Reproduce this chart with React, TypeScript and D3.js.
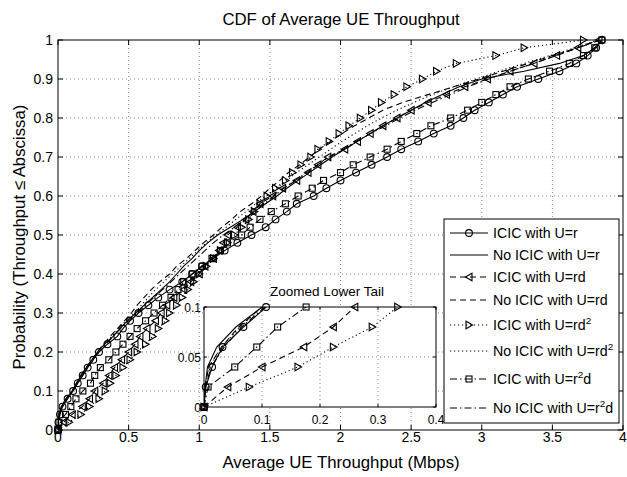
import React from "react";
import * as d3 from "d3";

// Probability levels of the empirical CDFs (shared by every series)
const probLevels = [
  0, 0.02, 0.04, 0.06, 0.08, 0.1, 0.12, 0.14, 0.16, 0.18, 0.2, 0.22, 0.24, 0.26, 0.28, 0.3,
  0.32, 0.34, 0.36, 0.38, 0.4, 0.42, 0.44, 0.46, 0.48, 0.5, 0.52, 0.54, 0.56, 0.58, 0.6,
  0.62, 0.64, 0.66, 0.68, 0.7, 0.72, 0.74, 0.76, 0.78, 0.8, 0.82, 0.84, 0.86, 0.88, 0.9,
  0.92, 0.94, 0.96, 0.98, 1.0,
];

// Throughput (Mbps) at each probability level
const icicR = [0, 0.003, 0.014, 0.032, 0.068, 0.107, 0.14, 0.175, 0.21, 0.25, 0.29, 0.35, 0.42, 0.46, 0.51, 0.57, 0.64, 0.71, 0.79, 0.88, 0.95, 1.02, 1.1, 1.18, 1.27, 1.37, 1.47, 1.54, 1.62, 1.69, 1.81, 1.9, 2.0, 2.11, 2.22, 2.33, 2.43, 2.55, 2.66, 2.78, 2.87, 2.95, 3.05, 3.15, 3.25, 3.4, 3.55, 3.67, 3.75, 3.81, 3.85];
const noIcicR = [0, 0.002, 0.006, 0.022, 0.055, 0.1, 0.13, 0.165, 0.2, 0.24, 0.28, 0.33, 0.39, 0.44, 0.49, 0.55, 0.61, 0.67, 0.73, 0.79, 0.84, 0.89, 0.95, 1.0, 1.06, 1.13, 1.22, 1.31, 1.39, 1.47, 1.55, 1.62, 1.7, 1.78, 1.86, 1.94, 2.03, 2.12, 2.21, 2.3, 2.4, 2.5, 2.6, 2.72, 2.84, 3.0, 3.3, 3.55, 3.72, 3.8, 3.85];
const icicRd = [0, 0.041, 0.1, 0.172, 0.223, 0.26, 0.32, 0.36, 0.4, 0.45, 0.5, 0.545, 0.58, 0.63, 0.69, 0.73, 0.77, 0.82, 0.89, 0.94, 1.0, 1.04, 1.1, 1.14, 1.17, 1.2, 1.27, 1.33, 1.38, 1.43, 1.52, 1.59, 1.69, 1.77, 1.84, 1.91, 2.03, 2.12, 2.21, 2.3, 2.4, 2.5, 2.62, 2.75, 2.88, 3.04, 3.2, 3.37, 3.53, 3.68, 3.83];
const noIcicRd = [0, 0.002, 0.008, 0.03, 0.06, 0.1, 0.13, 0.16, 0.2, 0.24, 0.28, 0.32, 0.37, 0.42, 0.47, 0.52, 0.56, 0.61, 0.66, 0.72, 0.79, 0.84, 0.91, 0.97, 1.03, 1.1, 1.16, 1.23, 1.29, 1.37, 1.44, 1.5, 1.57, 1.63, 1.71, 1.78, 1.85, 1.93, 2.01, 2.1, 2.2, 2.3, 2.44, 2.62, 2.8, 2.98, 3.15, 3.33, 3.5, 3.68, 3.83];
const icicRd2 = [0, 0.078, 0.162, 0.223, 0.29, 0.334, 0.37, 0.41, 0.46, 0.51, 0.56, 0.62, 0.67, 0.71, 0.76, 0.79, 0.84, 0.88, 0.92, 0.96, 1.0, 1.05, 1.1, 1.15, 1.2, 1.25, 1.3, 1.35, 1.39, 1.43, 1.48, 1.54, 1.61, 1.66, 1.72, 1.79, 1.84, 1.92, 1.99, 2.06, 2.14, 2.22, 2.29, 2.38, 2.47, 2.58, 2.68, 2.82, 3.1, 3.3, 3.72];
const noIcicRd2 = [0, 0.002, 0.01, 0.03, 0.062, 0.1, 0.135, 0.17, 0.205, 0.245, 0.285, 0.33, 0.38, 0.43, 0.48, 0.54, 0.59, 0.64, 0.69, 0.75, 0.81, 0.87, 0.93, 0.99, 1.05, 1.12, 1.19, 1.26, 1.33, 1.4, 1.47, 1.55, 1.62, 1.69, 1.77, 1.85, 1.93, 2.01, 2.1, 2.19, 2.29, 2.4, 2.52, 2.65, 2.8, 2.96, 3.12, 3.3, 3.48, 3.66, 3.82];
const icicR2d = [0, 0.007, 0.053, 0.091, 0.127, 0.176, 0.23, 0.26, 0.3, 0.36, 0.41, 0.46, 0.51, 0.56, 0.62, 0.68, 0.74, 0.8, 0.85, 0.89, 0.95, 1.02, 1.09, 1.15, 1.2, 1.3, 1.36, 1.43, 1.51, 1.61, 1.7, 1.8, 1.88, 2.0, 2.09, 2.21, 2.33, 2.43, 2.54, 2.64, 2.78, 2.9, 3.0, 3.1, 3.2, 3.33, 3.48, 3.62, 3.72, 3.8, 3.85];
const noIcicR2d = [0, 0.003, 0.012, 0.035, 0.065, 0.105, 0.14, 0.175, 0.21, 0.25, 0.29, 0.34, 0.39, 0.44, 0.5, 0.56, 0.62, 0.68, 0.74, 0.8, 0.86, 0.92, 0.98, 1.04, 1.1, 1.17, 1.25, 1.32, 1.39, 1.46, 1.53, 1.6, 1.68, 1.76, 1.84, 1.92, 2.02, 2.11, 2.21, 2.32, 2.42, 2.53, 2.65, 2.78, 2.9, 3.05, 3.2, 3.37, 3.52, 3.68, 3.84];

const seriesLabels = [
  "ICIC with U=r",
  "No ICIC with U=r",
  "ICIC with U=rd",
  "No ICIC with U=rd",
  "ICIC with U=rd^2",
  "No ICIC with U=rd^2",
  "ICIC with U=r^2d",
  "No ICIC with U=r^2d",
];
const seriesValues = [icicR, noIcicR, icicRd, noIcicRd, icicRd2, noIcicRd2, icicR2d, noIcicR2d];
const seriesMarkers = ["circle", "none", "triLeft", "none", "triRight", "none", "square", "none"];
const seriesDash = ["none", "none", "6,4", "6,4", "1.2,2.8", "1.2,2.8", "7,3,1.5,3", "7,3,1.5,3"];

const xTicks = [0, 0.5, 1, 1.5, 2, 2.5, 3, 3.5, 4];
const yTicks = [0, 0.1, 0.2, 0.3, 0.4, 0.5, 0.6, 0.7, 0.8, 0.9, 1];
const insetXTicks = [0, 0.1, 0.2, 0.3, 0.4];
const insetYTicks = [0, 0.05, 0.1];

const FONT = "'Liberation Sans', Arial, Helvetica, sans-serif";

const M = { left: 58, right: 623, top: 40, bottom: 430 };
const I = { left: 204, right: 436, top: 307, bottom: 407 };
const L = { left: 444, right: 619, top: 219, bottom: 423 };
const legendRowY = [233, 255, 277, 300, 325, 351, 379, 408];

function Marker({ type, x, y }: { type: string; x: number; y: number }) {
  const common = { fill: "none", stroke: "#000", strokeWidth: 1.1 };
  if (type === "circle") return <circle cx={x} cy={y} r={3.4} {...common} />;
  if (type === "square") return <rect x={x - 3} y={y - 3} width={6} height={6} {...common} />;
  if (type === "triLeft")
    return <path d={`M${x - 3.6},${y} L${x + 3},${y - 3.8} L${x + 3},${y + 3.8} Z`} {...common} />;
  if (type === "triRight")
    return <path d={`M${x + 3.6},${y} L${x - 3},${y - 3.8} L${x - 3},${y + 3.8} Z`} {...common} />;
  return null;
}

function Label({ text, x, y, size }: { text: string; x: number; y: number; size: number }) {
  const parts = text.split("^2");
  const nodes: React.ReactNode[] = [];
  parts.forEach((p, i) => {
    if (i > 0) {
      nodes.push(
        <tspan key={`s${i}`} fontSize={size * 0.7} dy={-6}>
          2
        </tspan>
      );
    }
    if (p.length > 0) {
      nodes.push(
        <tspan key={`p${i}`} dy={i > 0 ? 6 : 0}>
          {p}
        </tspan>
      );
    }
  });
  return (
    <text x={x} y={y} fontSize={size} fontFamily={FONT} fill="#000">
      {nodes}
    </text>
  );
}

function Curves({
  xs,
  ys,
  clipId,
  inDomain,
}: {
  xs: d3.ScaleLinear<number, number>;
  ys: d3.ScaleLinear<number, number>;
  clipId: string;
  inDomain: (x: number, y: number) => boolean;
}) {
  return (
    <g>
      <g clipPath={`url(#${clipId})`}>
        {seriesValues.map((vals, si) => {
          const pts = vals.map((v, i) => [v, probLevels[i]] as [number, number]);
          const line = d3
            .line<[number, number]>()
            .x((d) => xs(d[0]))
            .y((d) => ys(d[1]));
          return (
            <path
              key={si}
              d={line(pts) || ""}
              fill="none"
              stroke="#000"
              strokeWidth={1.1}
              strokeDasharray={seriesDash[si]}
            />
          );
        })}
      </g>
      {seriesValues.map((vals, si) =>
        seriesMarkers[si] === "none"
          ? null
          : vals.map((v, i) =>
              inDomain(v, probLevels[i]) ? (
                <Marker key={`${si}-${i}`} type={seriesMarkers[si]} x={xs(v)} y={ys(probLevels[i])} />
              ) : null
            )
      )}
    </g>
  );
}

export default function App() {
  const x = d3.scaleLinear().domain([0, 4]).range([M.left, M.right]);
  const y = d3.scaleLinear().domain([0, 1]).range([M.bottom, M.top]);
  const ix = d3.scaleLinear().domain([0, 0.4]).range([I.left, I.right]);
  const iy = d3.scaleLinear().domain([0, 0.1]).range([I.bottom, I.top]);
  const fmt = (v: number) => String(v);
  const grid = { stroke: "#555", strokeWidth: 0.7, strokeDasharray: "1,3" };

  return (
    <div style={{ position: "fixed", left: 0, top: 0 }}>
      <svg width={627} height={477} style={{ display: "block", background: "#fff" }}>
        <defs>
          <clipPath id="mainClip">
            <rect x={M.left} y={M.top} width={M.right - M.left} height={M.bottom - M.top} />
          </clipPath>
          <clipPath id="insetClip">
            <rect x={I.left} y={I.top} width={I.right - I.left} height={I.bottom - I.top} />
          </clipPath>
        </defs>
        <rect x={0} y={0} width={627} height={477} fill="#fff" />

        {/* main grid */}
        {xTicks.slice(1, -1).map((t) => (
          <line key={`gx${t}`} x1={x(t)} x2={x(t)} y1={M.top} y2={M.bottom} {...grid} />
        ))}
        {yTicks.slice(1, -1).map((t) => (
          <line key={`gy${t}`} x1={M.left} x2={M.right} y1={y(t)} y2={y(t)} {...grid} />
        ))}

        <Curves xs={x} ys={y} clipId="mainClip" inDomain={(a, b) => a >= 0 && a <= 4 && b >= 0 && b <= 1} />

        {/* main frame & ticks */}
        <rect x={M.left} y={M.top} width={M.right - M.left} height={M.bottom - M.top} fill="none" stroke="#000" strokeWidth={1} />
        {xTicks.map((t) => (
          <g key={`tx${t}`}>
            <line x1={x(t)} x2={x(t)} y1={M.bottom} y2={M.bottom - 5} stroke="#000" />
            <line x1={x(t)} x2={x(t)} y1={M.top} y2={M.top + 5} stroke="#000" />
            <text x={x(t)} y={442} textAnchor="middle" fontSize={14} fontFamily={FONT}>
              {fmt(t)}
            </text>
          </g>
        ))}
        {yTicks.map((t) => (
          <g key={`ty${t}`}>
            <line x1={M.left} x2={M.left + 5} y1={y(t)} y2={y(t)} stroke="#000" />
            <line x1={M.right} x2={M.right - 5} y1={y(t)} y2={y(t)} stroke="#000" />
            <text x={53} y={y(t) + 5} textAnchor="end" fontSize={14} fontFamily={FONT}>
              {fmt(t)}
            </text>
          </g>
        ))}

        {/* titles */}
        <text x={341} y={25} textAnchor="middle" fontSize={16.8} fontFamily={FONT}>
          CDF of Average UE Throughput
        </text>
        <text x={341} y={468} textAnchor="middle" fontSize={16.8} fontFamily={FONT}>
          Average UE Throughput (Mbps)
        </text>
        <text
          transform={`translate(25,237) rotate(-90)`}
          textAnchor="middle"
          fontSize={16.8}
          fontFamily={FONT}
        >
          Probability (Throughput ≤ Abscissa)
        </text>

        {/* inset */}
        <rect x={I.left} y={I.top} width={I.right - I.left} height={I.bottom - I.top} fill="#fff" />
        {insetXTicks.slice(1, -1).map((t) => (
          <line key={`igx${t}`} x1={ix(t)} x2={ix(t)} y1={I.top} y2={I.bottom} {...grid} />
        ))}
        {insetYTicks.slice(1, -1).map((t) => (
          <line key={`igy${t}`} x1={I.left} x2={I.right} y1={iy(t)} y2={iy(t)} {...grid} />
        ))}
        <Curves
          xs={ix}
          ys={iy}
          clipId="insetClip"
          inDomain={(a, b) => a >= 0 && a <= 0.4001 && b >= 0 && b <= 0.1001}
        />
        <rect x={I.left} y={I.top} width={I.right - I.left} height={I.bottom - I.top} fill="none" stroke="#000" strokeWidth={1} />
        {insetXTicks.map((t) => (
          <g key={`itx${t}`}>
            <line x1={ix(t)} x2={ix(t)} y1={I.bottom} y2={I.bottom - 3} stroke="#000" />
            <line x1={ix(t)} x2={ix(t)} y1={I.top} y2={I.top + 3} stroke="#000" />
            <text x={ix(t)} y={424} textAnchor="middle" fontSize={12} fontFamily={FONT}>
              {fmt(t)}
            </text>
          </g>
        ))}
        {insetYTicks.map((t) => (
          <g key={`ity${t}`}>
            <line x1={I.left} x2={I.left + 3} y1={iy(t)} y2={iy(t)} stroke="#000" />
            <line x1={I.right} x2={I.right - 3} y1={iy(t)} y2={iy(t)} stroke="#000" />
            <text x={201} y={iy(t) + 4.5} textAnchor="end" fontSize={12} fontFamily={FONT}>
              {fmt(t)}
            </text>
          </g>
        ))}
        <text x={327} y={296} textAnchor="middle" fontSize={13.5} fontFamily={FONT}>
          Zoomed Lower Tail
        </text>

        {/* legend */}
        <rect x={L.left} y={L.top} width={L.right - L.left} height={L.bottom - L.top} fill="#fff" stroke="#000" strokeWidth={1} />
        {seriesLabels.map((lab, i) => {
          const ry = legendRowY[i];
          return (
            <g key={`lg${i}`}>
              <line x1={450} x2={488} y1={ry} y2={ry} stroke="#000" strokeWidth={1.1} strokeDasharray={seriesDash[i]} />
              <Marker type={seriesMarkers[i]} x={469} y={ry} />
              <Label text={lab} x={493} y={ry + 5} size={14.2} />
            </g>
          );
        })}
      </svg>
    </div>
  );
}
